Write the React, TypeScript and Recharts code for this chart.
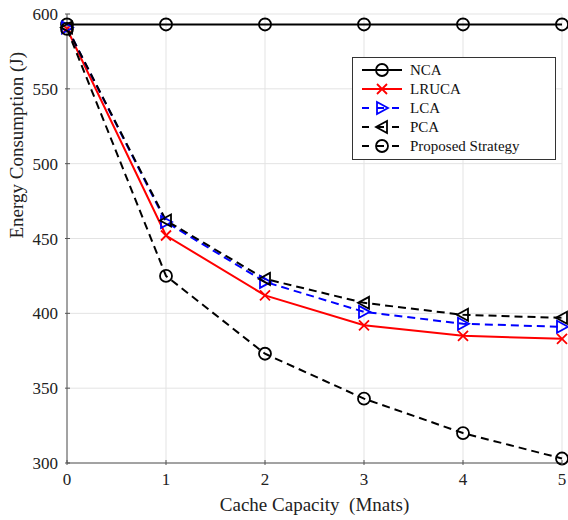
import React from 'react';
import { LineChart, Line, XAxis, YAxis, CartesianGrid } from 'recharts';

// cache capacity (Mnats) and energy consumption (J) per strategy
const capacity = [0, 1, 2, 3, 4, 5];
const nca = [593, 593, 593, 593, 593, 593];
const lruca = [590, 452, 412, 392, 385, 383];
const lca = [591, 461, 421, 401, 393, 391];
const pca = [591, 462, 423, 407, 399, 397];
const proposed = [590, 425, 373, 343, 320, 303];
const yTicks = [300, 350, 400, 450, 500, 550, 600];

const data = capacity.map((c, i) => ({
  c,
  nca: nca[i],
  lruca: lruca[i],
  lca: lca[i],
  pca: pca[i],
  proposed: proposed[i],
}));

const FONT = '"Liberation Serif", "Times New Roman", serif';

type Shape = 'circle' | 'cross' | 'triRight' | 'triLeft';

function Marker({ cx, cy, shape, color }: { cx: number; cy: number; shape: Shape; color: string }) {
  const r = 6;
  if (shape === 'circle') {
    return <circle cx={cx} cy={cy} r={r} fill="none" stroke={color} strokeWidth={1.8} />;
  }
  if (shape === 'cross') {
    return (
      <path
        d={`M${cx - 5},${cy - 5}L${cx + 5},${cy + 5}M${cx - 5},${cy + 5}L${cx + 5},${cy - 5}`}
        stroke={color}
        strokeWidth={1.8}
        fill="none"
      />
    );
  }
  const pts =
    shape === 'triRight'
      ? `${cx - 5},${cy - 6} ${cx + 6},${cy} ${cx - 5},${cy + 6}`
      : `${cx + 5},${cy - 6} ${cx - 6},${cy} ${cx + 5},${cy + 6}`;
  return <polygon points={pts} fill="none" stroke={color} strokeWidth={1.8} />;
}

const makeDot = (shape: Shape, color: string) => (props: any) => {
  const { cx, cy, index } = props;
  if (cx == null || cy == null) return <g key={index} />;
  return <Marker key={index} cx={cx} cy={cy} shape={shape} color={color} />;
};

// inward tick marks with the label outside the axis
const XTick = (props: any) => {
  const { x, y, payload } = props;
  return (
    <g>
      <line x1={x} x2={x} y1={y} y2={y - 5} stroke="#555" />
      <text x={x} y={y + 20} textAnchor="middle" fontSize={17} fontFamily={FONT} fill="#222">
        {payload.value}
      </text>
    </g>
  );
};

const YTick = (props: any) => {
  const { x, y, payload } = props;
  return (
    <g>
      <line x1={x} x2={x + 5} y1={y} y2={y} stroke="#555" />
      <text x={x - 7} y={y + 6} textAnchor="end" fontSize={17} fontFamily={FONT} fill="#222">
        {payload.value}
      </text>
    </g>
  );
};

const series = [
  { key: 'nca', name: 'NCA', color: '#000000', dash: undefined, shape: 'circle' as Shape },
  { key: 'lruca', name: 'LRUCA', color: '#ff0000', dash: undefined, shape: 'cross' as Shape },
  { key: 'lca', name: 'LCA', color: '#0000ff', dash: '8 5', shape: 'triRight' as Shape },
  { key: 'pca', name: 'PCA', color: '#000000', dash: '8 5', shape: 'triLeft' as Shape },
  { key: 'proposed', name: 'Proposed Strategy', color: '#000000', dash: '8 5', shape: 'circle' as Shape },
];

function LegendBox() {
  const w = 204;
  const h = 103;
  return (
    <svg width={w} height={h} style={{ display: 'block' }}>
      <rect x={0.5} y={0.5} width={w - 1} height={h - 1} fill="#fff" stroke="#333" strokeWidth={1} />
      {series.map((s, i) => {
        const y = 13 + i * 19;
        return (
          <g key={s.key}>
            <line
              x1={10}
              x2={50}
              y1={y}
              y2={y}
              stroke={s.color}
              strokeWidth={2}
              strokeDasharray={s.dash ? '7 8' : undefined}
            />
            <Marker cx={30} cy={y} shape={s.shape} color={s.color} />
            <text x={58} y={y + 5} fontSize={15} fontFamily={FONT} fill="#111">
              {s.name}
            </text>
          </g>
        );
      })}
    </svg>
  );
}

export default function App() {
  return (
    <div style={{ position: 'absolute', left: 0, top: 0, width: 568, height: 520, background: '#fff' }}>
      <LineChart width={568} height={520} data={data} margin={{ top: 14, right: 6, bottom: 0, left: 0 }}>
        <CartesianGrid stroke="#e3e3e3" strokeWidth={1} />
        <XAxis
          dataKey="c"
          type="number"
          domain={[0, 5]}
          ticks={capacity}
          height={57}
          stroke="#555"
          tickLine={false}
          tickSize={0}
          tick={XTick}
          label={{ value: 'Cache Capacity\u00a0\u00a0(Mnats)', position: 'insideBottom', offset: 9, fontSize: 19, fontFamily: FONT, fill: '#222' }}
        />
        <YAxis
          type="number"
          domain={[300, 600]}
          ticks={yTicks}
          width={67}
          stroke="#555"
          tickLine={false}
          tickSize={0}
          tick={YTick}
          label={{ value: 'Energy Consumption (J)', angle: -90, position: 'insideLeft', offset: 0, dx: 16, fontSize: 19, fontFamily: FONT, fill: '#222' }}
        />
        {series.map((s) => (
          <Line
            key={s.key}
            dataKey={s.key}
            name={s.name}
            stroke={s.color}
            strokeWidth={2}
            strokeDasharray={s.dash}
            dot={makeDot(s.shape, s.color)}
            activeDot={false}
            isAnimationActive={false}
            type="linear"
          />
        ))}
      </LineChart>
      <div style={{ position: 'absolute', left: 352, top: 57 }}>
        <LegendBox />
      </div>
    </div>
  );
}
